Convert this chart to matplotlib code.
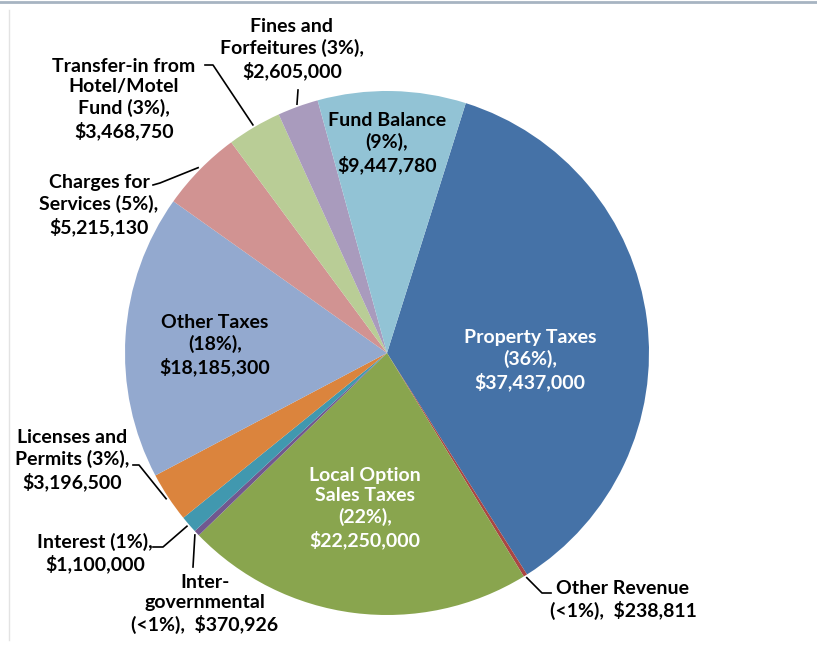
import numpy as np
import matplotlib
matplotlib.use('Agg')
import matplotlib.pyplot as plt
from matplotlib.lines import Line2D

plt.rcParams['font.family'] = ['Lato', 'DejaVu Sans']

# data, clockwise from Property Taxes
names = ['Property Taxes', 'Other Revenue', 'Local Option Sales Taxes', 'Intergovernmental',
         'Interest', 'Licenses and Permits', 'Other Taxes', 'Charges for Services',
         'Transfer-in from Hotel/Motel Fund', 'Fines and Forfeitures', 'Fund Balance']
values = [37437000, 238811, 22250000, 370926, 1100000, 3196500,
          18185300, 5215130, 3468750, 2605000, 9447780]
label_text = [
    'Property Taxes\n(36%),\n$37,437,000',
    'Other Revenue\n(<1%),  $238,811',
    'Local Option\nSales Taxes\n(22%),\n$22,250,000',
    'Inter-\ngovernmental\n(<1%),  $370,926',
    'Interest (1%),\n$1,100,000',
    'Licenses and\nPermits (3%),\n$3,196,500',
    'Other Taxes\n(18%),\n$18,185,300',
    'Charges for\nServices (5%),\n$5,215,130',
    'Transfer-in from\nHotel/Motel\nFund (3%),\n$3,468,750',
    'Fines and\nForfeitures (3%),\n$2,605,000',
    'Fund Balance\n(9%),\n$9,447,780',
]
colors = ['#4572A7', '#AA4643', '#89A54E', '#71588F', '#4198AF', '#DB843D',
          '#93A9CF', '#D19392', '#B9CD96', '#A99BBD', '#92C3D5']

W, H = 817, 650
fig = plt.figure(figsize=(W / 100, H / 100), dpi=100)
cx, cy, R = 387, 353, 262
ax = fig.add_axes([(cx - R) / W, (H - cy - R) / H, 2 * R / W, 2 * R / H])
start = 72.5
wedges, _ = ax.pie(values, colors=colors, startangle=start, counterclock=False,
                   radius=1, wedgeprops=dict(linewidth=0))
ax.set_xlim(-1, 1)
ax.set_ylim(-1, 1)
ax.set_aspect('equal')
ax.axis('off')


def fxy(px, py):
    return px / W, 1 - py / H


# label layout in pixels: (x, y, text colour)
layout = {
    0: (530, 360, 'white'),
    1: (623, 600, 'black'),
    2: (365, 508, 'white'),
    3: (205, 604, 'black'),
    4: (95, 553, 'black'),
    5: (72, 460, 'black'),
    6: (215, 345, 'black'),
    7: (99, 205, 'black'),
    8: (124, 99, 'black'),
    9: (292, 49, 'black'),
    10: (387, 143, 'black'),
}
for i, (px, py, col) in layout.items():
    x, y = fxy(px, py)
    fig.text(x, y, label_text[i], ha='center', va='center', color=col,
             fontsize=14, fontweight='bold', linespacing=1.25)

# leader lines: label-side points in pixels, wedge end from mid-angle
leaders = {
    1: [(551, 593), (542, 593)],
    3: [(193, 567)],
    4: [(153, 547), (163, 547)],
    5: [(133, 465), (139, 465)],
    7: [(153, 185), (160, 183)],
    8: [(205, 65), (213, 65)],
    9: [(298, 90)],
}
total = float(sum(values))
cum = np.cumsum([0] + values)
for i, pts in leaders.items():
    mid = start - 360 * (cum[i] + values[i] / 2) / total
    r = 1.01
    ex = cx + R * r * np.cos(np.radians(mid))
    ey = cy - R * r * np.sin(np.radians(mid))
    xs = [p[0] for p in pts] + [ex]
    ys = [p[1] for p in pts] + [ey]
    fx = [x / W for x in xs]
    fy = [1 - y / H for y in ys]
    fig.add_artist(Line2D(fx, fy, color='black', linewidth=1.2, transform=fig.transFigure))

# frame lines
fig.add_artist(Line2D([0, 1], [1 - 1.5 / H, 1 - 1.5 / H], color='#A7B4C2', linewidth=2,
                      transform=fig.transFigure))
fig.add_artist(Line2D([9 / W, 9 / W], [1 - 10 / H, 1 - 640 / H], color='#E3E3E3', linewidth=1,
                      transform=fig.transFigure))

fig.savefig('out.png', dpi=100)
